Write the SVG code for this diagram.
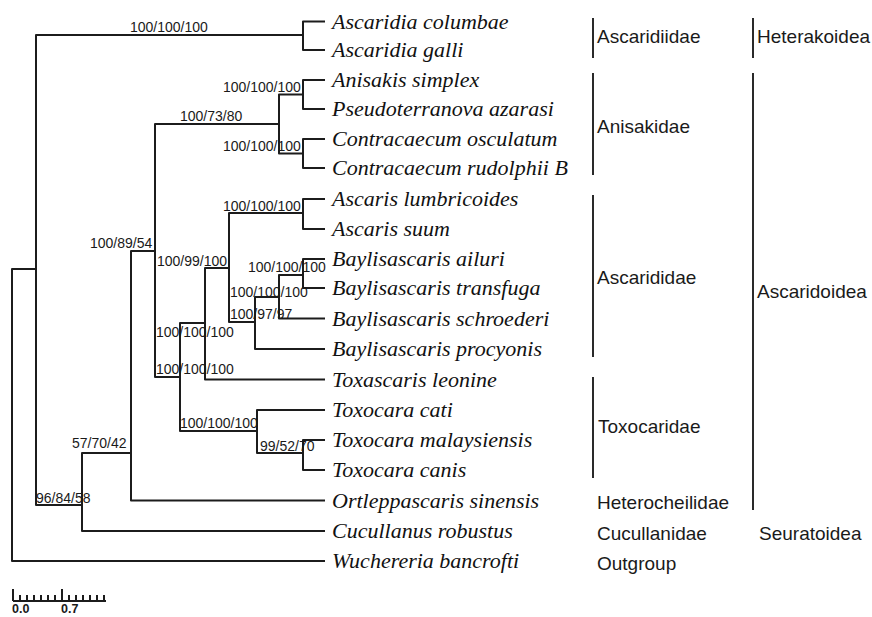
<svg xmlns="http://www.w3.org/2000/svg" width="872" height="617" viewBox="0 0 872 617">
<style>
.br{fill:none;stroke:#1c1c1c;stroke-width:2;stroke-linejoin:round;stroke-linecap:butt}
.bar{stroke:#2a2a2a;stroke-width:2}
.sp{font-family:"Liberation Serif","Times New Roman",serif;font-style:italic;font-size:22px;fill:#111}
.bs{font-family:"Liberation Sans",Arial,sans-serif;font-size:14px;fill:#1a1a1a}
.fam{font-family:"Liberation Sans",Arial,sans-serif;font-size:19px;fill:#1a1a1a}
.sc{font-family:"Liberation Sans",Arial,sans-serif;font-size:12.5px;font-weight:bold;fill:#1a1a1a}
</style>
<rect width="872" height="617" fill="#ffffff"/>
<g id="connectors">
<path class="br" d="M36 269H12V561H325"/>
<path class="br" d="M303 35H36V505H82"/>
<path class="br" d="M325 21.5H303V50H325"/>
<path class="br" d="M131 453H82V531H325"/>
<path class="br" d="M155 251H131V500.5H325"/>
<path class="br" d="M279 124H155V377H180"/>
<path class="br" d="M303 94.5H279V153.5H303"/>
<path class="br" d="M325 80H303V109H325"/>
<path class="br" d="M325 139H303V168H325"/>
<path class="br" d="M205 323H180V431H257"/>
<path class="br" d="M229 268H205V379.5H325"/>
<path class="br" d="M303 213H229V322H255"/>
<path class="br" d="M325 199H303V229H325"/>
<path class="br" d="M279 297H255V349H325"/>
<path class="br" d="M303 275H279V318.5H325"/>
<path class="br" d="M325 259H303V288H325"/>
<path class="br" d="M325 410H257V453H303"/>
<path class="br" d="M325 440H303V470H325"/>
</g>
<g id="leaves">
<g id="leaf-ascaridia-columbae"><text class="sp" x="332" y="28.5">Ascaridia columbae</text></g>
<g id="leaf-ascaridia-galli"><text class="sp" x="332" y="57">Ascaridia galli</text></g>
<g id="leaf-anisakis-simplex"><text class="sp" x="332" y="87">Anisakis simplex</text></g>
<g id="leaf-pseudoterranova-azarasi"><text class="sp" x="332" y="116">Pseudoterranova azarasi</text></g>
<g id="leaf-contracaecum-osculatum"><text class="sp" x="332" y="146">Contracaecum osculatum</text></g>
<g id="leaf-contracaecum-rudolphii"><text class="sp" x="332" y="175">Contracaecum rudolphii B</text></g>
<g id="leaf-ascaris-lumbricoides"><text class="sp" x="332" y="206">Ascaris lumbricoides</text></g>
<g id="leaf-ascaris-suum"><text class="sp" x="332" y="236">Ascaris suum</text></g>
<g id="leaf-baylisascaris-ailuri"><text class="sp" x="332" y="266">Baylisascaris ailuri</text></g>
<g id="leaf-baylisascaris-transfuga"><text class="sp" x="332" y="295">Baylisascaris transfuga</text></g>
<g id="leaf-baylisascaris-schroederi"><text class="sp" x="332" y="325.5">Baylisascaris schroederi</text></g>
<g id="leaf-baylisascaris-procyonis"><text class="sp" x="332" y="356">Baylisascaris procyonis</text></g>
<g id="leaf-toxascaris-leonine"><text class="sp" x="332" y="386.5">Toxascaris leonine</text></g>
<g id="leaf-toxocara-cati"><text class="sp" x="332" y="417">Toxocara cati</text></g>
<g id="leaf-toxocara-malaysiensis"><text class="sp" x="332" y="447">Toxocara malaysiensis</text></g>
<g id="leaf-toxocara-canis"><text class="sp" x="332" y="477">Toxocara canis</text></g>
<g id="leaf-ortleppascaris-sinensis"><text class="sp" x="332" y="507.5">Ortleppascaris sinensis</text></g>
<g id="leaf-cucullanus-robustus"><text class="sp" x="332" y="538">Cucullanus robustus</text></g>
<g id="leaf-wuchereria-bancrofti"><text class="sp" x="332" y="568">Wuchereria bancrofti</text></g>
</g>
<g id="support">
<g id="node-ascaridia"><text class="bs" x="130" y="32">100/100/100</text></g>
<g id="node-anisakis"><text class="bs" x="223" y="92">100/100/100</text></g>
<g id="node-anisakidae"><text class="bs" x="180" y="121">100/73/80</text></g>
<g id="node-contracaecum"><text class="bs" x="223" y="151">100/100/100</text></g>
<g id="node-ascaris"><text class="bs" x="223" y="211">100/100/100</text></g>
<g id="node-n4"><text class="bs" x="90" y="248">100/89/54</text></g>
<g id="node-n6"><text class="bs" x="157" y="266">100/99/100</text></g>
<g id="node-baylis-pair"><text class="bs" x="248" y="272">100/100/100</text></g>
<g id="node-n9"><text class="bs" x="230" y="297">100/100/100</text></g>
<g id="node-n8"><text class="bs" x="230" y="319">100/97/97</text></g>
<g id="node-n5a"><text class="bs" x="156" y="337">100/100/100</text></g>
<g id="node-n5"><text class="bs" x="156" y="374">100/100/100</text></g>
<g id="node-toxocara"><text class="bs" x="180" y="428">100/100/100</text></g>
<g id="node-n3"><text class="bs" x="72" y="448">57/70/42</text></g>
<g id="node-tox-pair"><text class="bs" x="260" y="451">99/52/70</text></g>
<g id="node-n2"><text class="bs" x="36" y="503">96/84/58</text></g>
</g>
<g id="families">
<g id="fam-ascaridiidae"><line class="bar" x1="593" y1="18" x2="593" y2="58"/><text class="fam" x="597" y="43">Ascaridiidae</text></g>
<g id="fam-anisakidae"><line class="bar" x1="593" y1="73" x2="593" y2="175"/><text class="fam" x="597" y="133">Anisakidae</text></g>
<g id="fam-ascarididae"><line class="bar" x1="593" y1="195" x2="593" y2="357"/><text class="fam" x="597" y="284">Ascarididae</text></g>
<g id="fam-toxocaridae"><line class="bar" x1="593" y1="377" x2="593" y2="478"/><text class="fam" x="598" y="433">Toxocaridae</text></g>
<g id="fam-heterocheilidae"><text class="fam" x="597" y="509">Heterocheilidae</text></g>
<g id="fam-cucullanidae"><text class="fam" x="597" y="540">Cucullanidae</text></g>
<g id="fam-outgroup"><text class="fam" x="597" y="570">Outgroup</text></g>
</g>
<g id="superfamilies">
<g id="sf-heterakoidea"><line class="bar" x1="753" y1="18" x2="753" y2="58"/><text class="fam" x="757" y="43">Heterakoidea</text></g>
<g id="sf-ascaridoidea"><line class="bar" x1="753" y1="73" x2="753" y2="510"/><text class="fam" x="757" y="298">Ascaridoidea</text></g>
<g id="sf-seuratoidea"><text class="fam" x="759" y="540">Seuratoidea</text></g>
</g>
<g id="scale-bar">
<path class="br" d="M13 601H106M13 589V601M62 589V601M20 595V601M27 595V601M34 595V601M41 595V601M48 595V601M55 595V601M69 595V601M76 595V601M83 595V601M90 595V601M97 595V601M104 595V601"/>
<text class="sc" x="12" y="613">0.0</text>
<text class="sc" x="61" y="613">0.7</text>
</g>
</svg>
